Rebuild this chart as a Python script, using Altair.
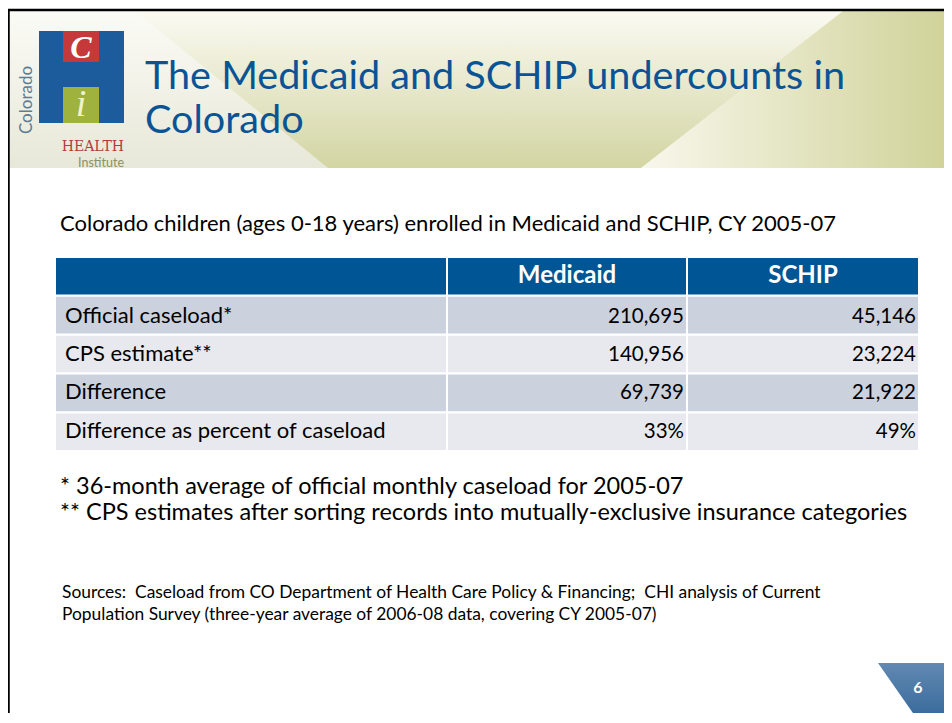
import altair as alt
import pandas as pd

# ---------------- data ----------------
title_lines = ["The Medicaid and SCHIP undercounts in", "Colorado"]
subtitle_text = "Colorado children (ages 0-18 years) enrolled in Medicaid and SCHIP, CY 2005-07"
programs = ["Medicaid", "SCHIP"]
row_labels = ["Official caseload*", "CPS estimate**", "Difference", "Difference as percent of caseload"]
medicaid = [210695, 140956, 69739, 0.33]
schip = [45146, 23224, 21922, 0.49]
footnotes = ["* 36-month average of official monthly caseload for 2005-07",
             "** CPS estimates after sorting records into mutually-exclusive insurance categories"]
sources = ["Sources:\u00a0 Caseload from CO Department of Health Care Policy & Financing;\u00a0 CHI analysis of Current",
           "Population Survey (three-year average of 2006-08 data, covering CY 2005-07)"]
page_number = "6"
logo_words = ["Colorado", "HEALTH", "Institute"]
logo_letters = ["C", "i"]

# ---------------- layout / style ----------------
W, H = 936, 705
FONT = "Lato"
BLUE = "#0A5496"
XS = alt.Scale(domain=[0, W], range=[0, W], nice=False, zero=False)
YS = alt.Scale(domain=[0, H], range=[0, H], nice=False, zero=False)

ROW_DOMAIN = ["__header__"] + row_labels
YB = alt.Scale(domain=ROW_DOMAIN, range=[250, 442], paddingInner=0.06, paddingOuter=0)
COL_EDGES = {"label": (48, 438), "Medicaid": (440, 678), "SCHIP": (680, 910)}


def fmt(v):
    return f"{v:.0%}" if v < 1 else f"{v:,}"


def one():
    return alt.Chart(pd.DataFrame({"k": [0]}))


def txt(s, **kw):
    return alt.Chart(pd.DataFrame({"t": [s]})).mark_text(**kw)


def vgrad(c0, c1, horizontal=False):
    return {"gradient": "linear", "x1": 0, "y1": 0,
            "x2": 1 if horizontal else 0, "y2": 0 if horizontal else 1,
            "stops": [{"offset": 0, "color": c0}, {"offset": 1, "color": c1}]}


# ---------------- header band ----------------
band_bg = one().mark_rect(color=vgrad("#FBFBF6", "#E7E8D8")).encode(
    x=alt.value(0), x2=alt.value(W), y=alt.value(3), y2=alt.value(160))

olive_shape = pd.DataFrame({"y": [3, 160], "xl": [127, 320], "xr": [835, 633]})
olive = alt.Chart(olive_shape).mark_area(orient="horizontal", color=vgrad("#FAFAF2", "#D3D5A3")).encode(
    y=alt.Y("y:Q", scale=YS, axis=None), x=alt.X("xl:Q", scale=XS, axis=None), x2="xr:Q")

right_shape = pd.DataFrame({"y": [3, 160], "xl": [835, 633], "xr": [W, W]})
right = alt.Chart(right_shape).mark_area(orient="horizontal", color=vgrad("#F8F7EC", "#D1D39A", True)).encode(
    y=alt.Y("y:Q", scale=YS, axis=None), x=alt.X("xl:Q", scale=XS, axis=None), x2="xr:Q")

top_border = one().mark_rule(color="black", strokeWidth=2.5).encode(
    x=alt.value(0), x2=alt.value(W), y=alt.value(2))
left_border = one().mark_rule(color="black", strokeWidth=2.5).encode(
    x=alt.value(0.5), y=alt.value(2), y2=alt.value(H + 20))

# ---------------- logo ----------------
logo_blue = one().mark_rect(color="#1D5C9C").encode(
    x=alt.value(31), x2=alt.value(116), y=alt.value(23), y2=alt.value(115))
logo_red = one().mark_rect(color="#C6393B").encode(
    x=alt.value(55), x2=alt.value(91), y=alt.value(23), y2=alt.value(54))
logo_green = one().mark_rect(color="#9FB23E").encode(
    x=alt.value(55), x2=alt.value(91), y=alt.value(79), y2=alt.value(115))
logo_c = txt(logo_letters[0], font="Liberation Serif", fontStyle="italic", fontWeight="bold", fontSize=32,
             color="white", align="center", baseline="middle").encode(
    text="t:N", x=alt.value(73), y=alt.value(40))
logo_i = txt(logo_letters[1], font="Liberation Serif", fontStyle="italic", fontSize=38, color="#EEF2D2",
             align="center", baseline="middle").encode(text="t:N", x=alt.value(73), y=alt.value(97))
logo_col = txt(logo_words[0], font=FONT, fontSize=17, color="#5E7C93", angle=270,
               align="center", baseline="middle").encode(text="t:N", x=alt.value(19), y=alt.value(92))
logo_health = txt(logo_words[1], font="DejaVu Serif", fontSize=14, color="#B23A3C",
                  align="right", baseline="alphabetic").encode(text="t:N", x=alt.value(116), y=alt.value(143))
logo_inst = txt(logo_words[2], font=FONT, fontSize=12.5, color="#8B9262",
                align="right", baseline="alphabetic").encode(text="t:N", x=alt.value(116), y=alt.value(159))

# ---------------- titles ----------------
title1 = txt(title_lines[0], font=FONT, fontSize=39.6, color=BLUE, align="left", baseline="alphabetic").encode(
    text="t:N", x=alt.value(137), y=alt.value(81))
title2 = txt(title_lines[1], font=FONT, fontSize=39.6, color=BLUE, align="left", baseline="alphabetic").encode(
    text="t:N", x=alt.value(137), y=alt.value(125))

subtitle = txt(subtitle_text, font=FONT, fontSize=22, color="black", align="left", baseline="alphabetic").encode(
    text="t:N", x=alt.value(52), y=alt.value(223))

# ---------------- table ----------------
cells = []
for i, r in enumerate(ROW_DOMAIN):
    kind = "header" if i == 0 else ("odd" if i % 2 == 1 else "even")
    for c, (x0, x1) in COL_EDGES.items():
        cells.append({"row": r, "col": c, "x0": x0, "x1": x1, "kind": kind})
cells = pd.DataFrame(cells)

rects = alt.Chart(cells).mark_rect().encode(
    x=alt.X("x0:Q", scale=XS, axis=None), x2="x1:Q",
    y=alt.Y("row:N", scale=YB, axis=None, sort=ROW_DOMAIN),
    color=alt.Color("kind:N", scale=alt.Scale(domain=["header", "odd", "even"],
                                              range=["#005595", "#CBD1DD", "#E7E9EE"]), legend=None))

head = pd.DataFrame({"row": ["__header__"] * len(programs), "t": programs,
                     "x": [(COL_EDGES[p][0] + COL_EDGES[p][1]) / 2 for p in programs]})
head_text = alt.Chart(head).mark_text(
    font=FONT, fontSize=24, fontWeight="bold", color="white", align="center", baseline="middle", dy=-1).encode(
    x=alt.X("x:Q", scale=XS, axis=None), y=alt.Y("row:N", scale=YB, axis=None, sort=ROW_DOMAIN), text="t:N")

labels = pd.DataFrame({"row": row_labels, "t": row_labels, "x": [COL_EDGES["label"][0] + 9] * len(row_labels)})
label_text = alt.Chart(labels).mark_text(
    font=FONT, fontSize=22, color="black", align="left", baseline="middle", dy=0).encode(
    x=alt.X("x:Q", scale=XS, axis=None), y=alt.Y("row:N", scale=YB, axis=None, sort=ROW_DOMAIN), text="t:N")

vals = []
for p, series in zip(programs, [medicaid, schip]):
    for r, v in zip(row_labels, series):
        vals.append({"row": r, "t": fmt(v), "x": COL_EDGES[p][1] - 2})
vals = pd.DataFrame(vals)
val_text = alt.Chart(vals).mark_text(
    font=FONT, fontSize=20.5, color="black", align="right", baseline="middle", dy=1).encode(
    x=alt.X("x:Q", scale=XS, axis=None), y=alt.Y("row:N", scale=YB, axis=None, sort=ROW_DOMAIN), text="t:N")

# ---------------- notes ----------------
note1 = txt(footnotes[0], font=FONT, fontSize=23.5, color="black", align="left", baseline="alphabetic").encode(
    text="t:N", x=alt.value(52), y=alt.value(486))
note2 = txt(footnotes[1], font=FONT, fontSize=23.5, color="black", align="left", baseline="alphabetic").encode(
    text="t:N", x=alt.value(52), y=alt.value(512))

src1 = txt(sources[0], font=FONT, fontSize=17.4, color="black", align="left", baseline="alphabetic").encode(
    text="t:N", x=alt.value(54), y=alt.value(590))
src2 = txt(sources[1], font=FONT, fontSize=17.4, color="black", align="left", baseline="alphabetic").encode(
    text="t:N", x=alt.value(54), y=alt.value(612))

# ---------------- page number ----------------
tri_shape = pd.DataFrame({"y": [655, 728], "xl": [870, 921], "xr": [972, 921]})
tri = alt.Chart(tri_shape).mark_area(orient="horizontal", color=vgrad("#6189B2", "#2B5F94")).encode(
    y=alt.Y("y:Q", scale=YS, axis=None), x=alt.X("xl:Q", scale=XS, axis=None), x2="xr:Q")
pnum = txt(page_number, font=FONT, fontSize=16, fontWeight="bold", color="white",
           align="center", baseline="middle").encode(text="t:N", x=alt.value(910), y=alt.value(680))

chart = alt.layer(
    band_bg, olive, right, top_border, left_border,
    logo_blue, logo_red, logo_green, logo_c, logo_i, logo_col, logo_health, logo_inst,
    title1, title2, subtitle, rects, head_text, label_text, val_text,
    note1, note2, src1, src2, tri, pnum
).resolve_scale(x="independent", y="independent", color="independent").properties(
    width=W, height=H, padding=0, autosize="none", background="white"
).configure_view(stroke=None)

chart.save("out.html", embed_options={"renderer": "svg", "actions": False})
